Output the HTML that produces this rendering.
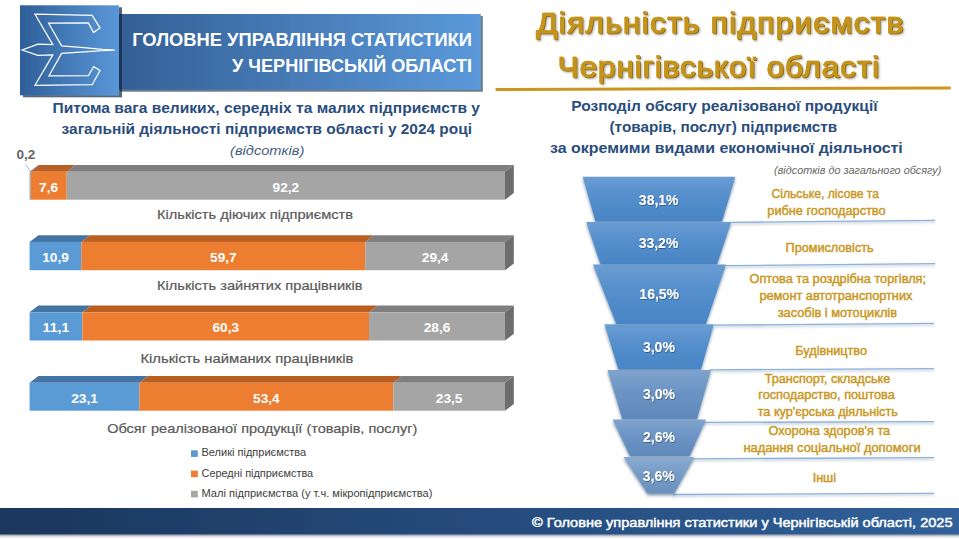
<!DOCTYPE html>
<html lang="uk"><head><meta charset="utf-8"><title>Діяльність підприємств Чернігівської області</title>
<style>
html,body{margin:0;padding:0;background:#fff;}
body{width:959px;height:539px;overflow:hidden;font-family:"Liberation Sans",sans-serif;}
svg{display:block;font-family:"Liberation Sans",sans-serif;}
</style></head><body>
<svg width="959" height="539" viewBox="0 0 959 539">
<defs>
<linearGradient id="gLogo" x1="0" y1="0" x2="1" y2="0"><stop offset="0" stop-color="#2f5f99"/><stop offset="1" stop-color="#5a97d8"/></linearGradient>
<linearGradient id="gBan" x1="0" y1="0" x2="1" y2="0"><stop offset="0" stop-color="#335f95"/><stop offset="1" stop-color="#5b99da"/></linearGradient>
<linearGradient id="gFoot" x1="0" y1="0" x2="1" y2="0"><stop offset="0" stop-color="#1b365d"/><stop offset="1" stop-color="#30609a"/></linearGradient>
<linearGradient id="gTrapA" x1="0" y1="0" x2="0" y2="1"><stop offset="0" stop-color="#6b9dd3"/><stop offset="0.45" stop-color="#548ecc"/><stop offset="1" stop-color="#4985c5"/></linearGradient>
<linearGradient id="gTrapB" x1="0" y1="0" x2="0" y2="1"><stop offset="0" stop-color="#7fa3cd"/><stop offset="0.45" stop-color="#6b94c4"/><stop offset="1" stop-color="#5f89ba"/></linearGradient>
<linearGradient id="gTrapC" x1="0" y1="0" x2="0" y2="1"><stop offset="0" stop-color="#8aabd0"/><stop offset="0.45" stop-color="#769bc7"/><stop offset="1" stop-color="#6a91be"/></linearGradient>
<filter id="sh" x="-10%" y="-10%" width="125%" height="130%"><feDropShadow dx="2" dy="2" stdDeviation="0.5" flood-color="#1c2f48" flood-opacity="0.65"/></filter>
<filter id="shLogo" x="-10%" y="-10%" width="125%" height="125%"><feDropShadow dx="3" dy="2" stdDeviation="0.5" flood-color="#0c2140" flood-opacity="0.7"/></filter>
<filter id="shFoot" x="-2%" y="-20%" width="104%" height="160%"><feDropShadow dx="0" dy="1.5" stdDeviation="1" flood-color="#1c2f48" flood-opacity="0.55"/></filter>
<filter id="shT" x="-10%" y="-20%" width="120%" height="150%"><feDropShadow dx="0" dy="2" stdDeviation="1.6" flood-color="#24425f" flood-opacity="0.55"/></filter>
<filter id="shL" x="-5%" y="-400%" width="110%" height="900%"><feDropShadow dx="0" dy="1.5" stdDeviation="1" flood-color="#35506e" flood-opacity="0.38"/></filter>
<filter id="shGold" x="-5%" y="-30%" width="110%" height="170%" color-interpolation-filters="sRGB">
<feGaussianBlur in="SourceAlpha" stdDeviation="1.3" result="b"/><feOffset in="b" dx="1.8" dy="2" result="bo"/><feFlood flood-color="#5f5a4c" flood-opacity="0.5"/><feComposite in2="bo" operator="in" result="shadow"/>
<feOffset in="SourceAlpha" dx="0.55" dy="0.55" result="d"/><feFlood flood-color="#8e6a0d"/><feComposite in2="d" operator="in" result="dark"/>
<feOffset in="SourceAlpha" dx="-0.4" dy="-0.45" result="l"/><feFlood flood-color="#e3b640"/><feComposite in2="l" operator="in" result="light"/>
<feMerge><feMergeNode in="shadow"/><feMergeNode in="dark"/><feMergeNode in="light"/><feMergeNode in="SourceGraphic"/></feMerge></filter>
<filter id="shTxt" x="-10%" y="-30%" width="120%" height="170%"><feDropShadow dx="0.6" dy="0.8" stdDeviation="0.7" flood-color="#1d3a5c" flood-opacity="0.7"/></filter>
</defs>
<rect width="959" height="539" fill="#ffffff"/>

<rect x="118" y="14" width="362.8" height="75.7" fill="url(#gBan)" filter="url(#sh)"/>
<rect x="20" y="5.3" width="99" height="90" fill="url(#gLogo)" filter="url(#shLogo)"/>
<polygon points="35,14.2 92.2,15.3 100,27.9 93.6,32.6 88.4,22.9 48.6,23.2 61.6,45.9 84,47.6 102.2,49.3 114.8,50.1 102.2,50.6 84,51.8 61.6,53.4 49,75.8 88.4,75.7 93.6,66.6 100,70.5 92.2,84.7 35,85.3 52.8,54.8 37.9,55.3 22.2,50 37.9,44.1 52.8,44.7" fill="none" stroke="#ffffff" stroke-width="1.25" stroke-linejoin="miter"/>
<text x="132.2" y="45.6" font-size="17.9" fill="#ffffff" font-weight="bold" font-style="normal" text-anchor="start" textLength="339.8" lengthAdjust="spacingAndGlyphs" >ГОЛОВНЕ УПРАВЛІННЯ СТАТИСТИКИ</text>
<text x="232.0" y="72.3" font-size="17.9" fill="#ffffff" font-weight="bold" font-style="normal" text-anchor="start" textLength="240.0" lengthAdjust="spacingAndGlyphs" >У ЧЕРНІГІВСЬКІЙ ОБЛАСТІ</text>
<path d="M495.6 89.6 L950.7 87.9" stroke="#c9961f" stroke-width="3" fill="none"/>
<g filter="url(#shGold)">
<text transform="translate(535.90,33.45) scale(1.08,1)" x="0" y="0" font-size="29.3" fill="#c4931c" font-weight="normal" font-style="normal" textLength="340.1" lengthAdjust="spacing" stroke="#c4931c" stroke-width="0.7" stroke-linejoin="round">Діяльність підприємств</text>
<text transform="translate(557.50,77.45) scale(1.08,1)" x="0" y="0" font-size="29.3" fill="#c4931c" font-weight="normal" font-style="normal" textLength="297.7" lengthAdjust="spacing" stroke="#c4931c" stroke-width="0.7" stroke-linejoin="round">Чернігівської області</text>
</g>
<text x="52.5" y="113.1" font-size="14.3" fill="#2a4d7d" font-weight="bold" font-style="normal" text-anchor="start" textLength="427.5" lengthAdjust="spacingAndGlyphs" >Питома вага великих, середніх та малих підприємств у</text>
<text x="61.6" y="134.4" font-size="14.3" fill="#2a4d7d" font-weight="bold" font-style="normal" text-anchor="start" textLength="410.4" lengthAdjust="spacingAndGlyphs" >загальній діяльності підприємств області у 2024 році</text>
<text x="230.0" y="154.6" font-size="12.5" fill="#44607f" font-weight="normal" font-style="italic" text-anchor="start" textLength="74.3" lengthAdjust="spacingAndGlyphs" >(відсотків)</text>
<polygon points="29.6,171.8 38.4,165.1 39.4,165.1 30.6,171.8" fill="#4474a3"/>
<polygon points="30.6,171.8 39.4,165.1 75.5,165.1 66.7,171.8" fill="#ba5f22"/>
<polygon points="66.7,171.8 75.5,165.1 513.8,165.1 505.0,171.8" fill="#7f7f7f"/>
<polygon points="505.0,171.8 513.8,165.1 513.8,193.0 505.0,199.7" fill="#6d6d6d"/>
<rect x="29.6" y="171.8" width="0.95" height="27.9" fill="#5b9bd5"/>
<rect x="30.6" y="171.8" width="36.13" height="27.9" fill="#ed7d31"/>
<rect x="66.7" y="171.8" width="438.32" height="27.9" fill="#a5a5a5"/>
<text x="39.1" y="191.6" font-size="13.4" fill="#ffffff" font-weight="bold" font-style="normal" text-anchor="start" textLength="19.1" lengthAdjust="spacingAndGlyphs" >7,6</text>
<text x="272.5" y="191.6" font-size="13.4" fill="#ffffff" font-weight="bold" font-style="normal" text-anchor="start" textLength="26.7" lengthAdjust="spacingAndGlyphs" >92,2</text>
<polygon points="29.6,241.9 38.4,235.2 90.2,235.2 81.4,241.9" fill="#4474a3"/>
<polygon points="81.4,241.9 90.2,235.2 374.0,235.2 365.2,241.9" fill="#ba5f22"/>
<polygon points="365.2,241.9 374.0,235.2 513.8,235.2 505.0,241.9" fill="#7f7f7f"/>
<polygon points="505.0,241.9 513.8,235.2 513.8,263.5 505.0,270.2" fill="#6d6d6d"/>
<rect x="29.6" y="241.9" width="51.82" height="28.3" fill="#5b9bd5"/>
<rect x="81.4" y="241.9" width="283.81" height="28.3" fill="#ed7d31"/>
<rect x="365.2" y="241.9" width="139.77" height="28.3" fill="#a5a5a5"/>
<text x="42.2" y="261.7" font-size="13.4" fill="#ffffff" font-weight="bold" font-style="normal" text-anchor="start" textLength="26.7" lengthAdjust="spacingAndGlyphs" >10,9</text>
<text x="210.0" y="261.7" font-size="13.4" fill="#ffffff" font-weight="bold" font-style="normal" text-anchor="start" textLength="26.7" lengthAdjust="spacingAndGlyphs" >59,7</text>
<text x="421.8" y="261.7" font-size="13.4" fill="#ffffff" font-weight="bold" font-style="normal" text-anchor="start" textLength="26.7" lengthAdjust="spacingAndGlyphs" >29,4</text>
<polygon points="29.6,312.3 38.4,305.6 91.2,305.6 82.4,312.3" fill="#4474a3"/>
<polygon points="82.4,312.3 91.2,305.6 377.8,305.6 369.0,312.3" fill="#ba5f22"/>
<polygon points="369.0,312.3 377.8,305.6 513.8,305.6 505.0,312.3" fill="#7f7f7f"/>
<polygon points="505.0,312.3 513.8,305.6 513.8,333.8 505.0,340.5" fill="#6d6d6d"/>
<rect x="29.6" y="312.3" width="52.77" height="28.2" fill="#5b9bd5"/>
<rect x="82.4" y="312.3" width="286.67" height="28.2" fill="#ed7d31"/>
<rect x="369.0" y="312.3" width="135.96" height="28.2" fill="#a5a5a5"/>
<text x="42.6" y="332.1" font-size="13.4" fill="#ffffff" font-weight="bold" font-style="normal" text-anchor="start" textLength="26.7" lengthAdjust="spacingAndGlyphs" >11,1</text>
<text x="212.4" y="332.1" font-size="13.4" fill="#ffffff" font-weight="bold" font-style="normal" text-anchor="start" textLength="26.7" lengthAdjust="spacingAndGlyphs" >60,3</text>
<text x="423.7" y="332.1" font-size="13.4" fill="#ffffff" font-weight="bold" font-style="normal" text-anchor="start" textLength="26.7" lengthAdjust="spacingAndGlyphs" >28,6</text>
<polygon points="29.6,382.8 38.4,376.1 148.2,376.1 139.4,382.8" fill="#4474a3"/>
<polygon points="139.4,382.8 148.2,376.1 402.1,376.1 393.3,382.8" fill="#ba5f22"/>
<polygon points="393.3,382.8 402.1,376.1 513.8,376.1 505.0,382.8" fill="#7f7f7f"/>
<polygon points="505.0,382.8 513.8,376.1 513.8,404.0 505.0,410.7" fill="#6d6d6d"/>
<rect x="29.6" y="382.8" width="109.82" height="27.9" fill="#5b9bd5"/>
<rect x="139.4" y="382.8" width="253.86" height="27.9" fill="#ed7d31"/>
<rect x="393.3" y="382.8" width="111.72" height="27.9" fill="#a5a5a5"/>
<text x="71.2" y="402.6" font-size="13.4" fill="#ffffff" font-weight="bold" font-style="normal" text-anchor="start" textLength="26.7" lengthAdjust="spacingAndGlyphs" >23,1</text>
<text x="253.0" y="402.6" font-size="13.4" fill="#ffffff" font-weight="bold" font-style="normal" text-anchor="start" textLength="26.7" lengthAdjust="spacingAndGlyphs" >53,4</text>
<text x="435.8" y="402.6" font-size="13.4" fill="#ffffff" font-weight="bold" font-style="normal" text-anchor="start" textLength="26.7" lengthAdjust="spacingAndGlyphs" >23,5</text>
<text x="16.4" y="158.6" font-size="12" fill="#666666" font-weight="bold" font-style="normal" text-anchor="start" textLength="18.8" lengthAdjust="spacingAndGlyphs" >0,2</text>
<path d="M25.5 164.5 L30 171" stroke="#a6a6a6" stroke-width="0.8" fill="none"/>
<text x="157.0" y="219.2" font-size="13" fill="#595959" font-weight="normal" font-style="normal" text-anchor="start" textLength="196.0" lengthAdjust="spacingAndGlyphs" stroke="#595959" stroke-width="0.2">Кількість діючих підприємств</text>
<text x="157.0" y="290.0" font-size="13" fill="#595959" font-weight="normal" font-style="normal" text-anchor="start" textLength="205.5" lengthAdjust="spacingAndGlyphs" stroke="#595959" stroke-width="0.2">Кількість зайнятих працівників</text>
<text x="140.4" y="362.6" font-size="13" fill="#595959" font-weight="normal" font-style="normal" text-anchor="start" textLength="213.1" lengthAdjust="spacingAndGlyphs" stroke="#595959" stroke-width="0.2">Кількість найманих працівників</text>
<text x="107.2" y="433.4" font-size="13" fill="#595959" font-weight="normal" font-style="normal" text-anchor="start" textLength="310.2" lengthAdjust="spacingAndGlyphs" stroke="#595959" stroke-width="0.2">Обсяг реалізованої продукції (товарів, послуг)</text>
<rect x="191" y="450.3" width="6.8" height="6.6" fill="#5b9bd5"/>
<text x="201.5" y="456.4" font-size="10.9" fill="#404040" font-weight="normal" font-style="normal" text-anchor="start" textLength="104.6" lengthAdjust="spacingAndGlyphs" >Великі підприємства</text>
<rect x="191" y="470.6" width="6.8" height="6.6" fill="#ed7d31"/>
<text x="201.5" y="476.7" font-size="10.9" fill="#404040" font-weight="normal" font-style="normal" text-anchor="start" textLength="111.7" lengthAdjust="spacingAndGlyphs" >Середні підприємства</text>
<rect x="191" y="490.8" width="6.8" height="6.6" fill="#a5a5a5"/>
<text x="201.5" y="496.9" font-size="10.9" fill="#404040" font-weight="normal" font-style="normal" text-anchor="start" textLength="230.9" lengthAdjust="spacingAndGlyphs" >Малі підприємства (у т.ч. мікропідприємства)</text>
<text x="571.2" y="110.8" font-size="14.3" fill="#2a4d7d" font-weight="bold" font-style="normal" text-anchor="start" textLength="306.4" lengthAdjust="spacingAndGlyphs" >Розподіл обсягу реалізованої продукції</text>
<text x="609.5" y="132.0" font-size="14.3" fill="#2a4d7d" font-weight="bold" font-style="normal" text-anchor="start" textLength="227.7" lengthAdjust="spacingAndGlyphs" >(товарів, послуг) підприємств</text>
<text x="550.0" y="153.2" font-size="14.3" fill="#2a4d7d" font-weight="bold" font-style="normal" text-anchor="start" textLength="352.8" lengthAdjust="spacingAndGlyphs" >за окремими видами економічної діяльності</text>
<text x="774.1" y="173.8" font-size="10.5" fill="#666666" font-weight="normal" font-style="italic" text-anchor="start" textLength="167.3" lengthAdjust="spacingAndGlyphs" >(відсотків до загального обсягу)</text>
<g filter="url(#shL)" stroke="#8cb1dc" stroke-width="1.3" fill="none">
<path d="M731 222.4 L935 220.3"/>
<path d="M725.7 265.7 L935 263.6"/>
<path d="M713.4 325.2 L934 323.4"/>
<path d="M709.7 369.8 L934 368.6"/>
<path d="M704 422.4 L934 421.7"/>
<path d="M693 458.8 L934 457.7"/>
<path d="M673 494.5 L934 493.4"/>
</g>
<polygon points="582.7,176.8 735.3,176.8 722.0,221.5 595.5,221.5" fill="url(#gTrapA)" filter="url(#shT)" stroke-linejoin="round"/>
<polygon points="586.3,222.1 731.2,222.1 717.0,264.6 600.6,264.6" fill="url(#gTrapA)" filter="url(#shT)" stroke-linejoin="round"/>
<polygon points="593.0,264.4 726.0,264.4 705.9,324.0 616.3,324.0" fill="url(#gTrapA)" filter="url(#shT)" stroke-linejoin="round"/>
<polygon points="604.5,324.3 713.8,324.3 701.0,369.5 618.4,369.5" fill="url(#gTrapA)" filter="url(#shT)" stroke-linejoin="round"/>
<polygon points="607.5,370.0 711.0,370.0 697.0,419.0 622.3,419.0" fill="url(#gTrapB)" filter="url(#shT)" stroke-linejoin="round"/>
<polygon points="612.6,419.6 706.0,419.6 689.7,456.0 630.0,456.0" fill="url(#gTrapB)" filter="url(#shT)" stroke-linejoin="round"/>
<polygon points="623.5,457.0 694.4,457.0 674.0,493.6 647.6,493.6" fill="url(#gTrapC)" filter="url(#shT)" stroke-linejoin="round"/>
<text x="658.7" y="205.4" font-size="14" fill="#ffffff" font-weight="bold" font-style="normal" text-anchor="middle" filter="url(#shTxt)">38,1%</text>
<text x="658.5" y="248.3" font-size="14" fill="#ffffff" font-weight="bold" font-style="normal" text-anchor="middle" filter="url(#shTxt)">33,2%</text>
<text x="659.2" y="299.0" font-size="14" fill="#ffffff" font-weight="bold" font-style="normal" text-anchor="middle" filter="url(#shTxt)">16,5%</text>
<text x="658.9" y="351.9" font-size="14" fill="#ffffff" font-weight="bold" font-style="normal" text-anchor="middle" filter="url(#shTxt)">3,0%</text>
<text x="659.0" y="398.7" font-size="14" fill="#ffffff" font-weight="bold" font-style="normal" text-anchor="middle" filter="url(#shTxt)">3,0%</text>
<text x="659.0" y="441.9" font-size="14" fill="#ffffff" font-weight="bold" font-style="normal" text-anchor="middle" filter="url(#shTxt)">2,6%</text>
<text x="658.7" y="481.1" font-size="14" fill="#ffffff" font-weight="bold" font-style="normal" text-anchor="middle" filter="url(#shTxt)">3,6%</text>
<text x="771.5" y="198.2" font-size="12.2" fill="#c9981f" font-weight="normal" font-style="normal" text-anchor="start" textLength="107.5" lengthAdjust="spacingAndGlyphs" stroke="#c9981f" stroke-width="0.45">Сільське, лісове та</text>
<text x="767.3" y="215.2" font-size="12.2" fill="#c9981f" font-weight="normal" font-style="normal" text-anchor="start" textLength="118.3" lengthAdjust="spacingAndGlyphs" stroke="#c9981f" stroke-width="0.45">рибне господарство</text>
<text x="785.6" y="251.5" font-size="12.2" fill="#c9981f" font-weight="normal" font-style="normal" text-anchor="start" textLength="88.0" lengthAdjust="spacingAndGlyphs" stroke="#c9981f" stroke-width="0.45">Промисловість</text>
<text x="749.5" y="283.3" font-size="12.2" fill="#c9981f" font-weight="normal" font-style="normal" text-anchor="start" textLength="176.5" lengthAdjust="spacingAndGlyphs" stroke="#c9981f" stroke-width="0.45">Оптова та роздрібна торгівля;</text>
<text x="759.4" y="300.4" font-size="12.2" fill="#c9981f" font-weight="normal" font-style="normal" text-anchor="start" textLength="153.0" lengthAdjust="spacingAndGlyphs" stroke="#c9981f" stroke-width="0.45">ремонт автотранспортних</text>
<text x="777.7" y="316.8" font-size="12.2" fill="#c9981f" font-weight="normal" font-style="normal" text-anchor="start" textLength="119.3" lengthAdjust="spacingAndGlyphs" stroke="#c9981f" stroke-width="0.45">засобів і мотоциклів</text>
<text x="795.3" y="355.0" font-size="12.2" fill="#c9981f" font-weight="normal" font-style="normal" text-anchor="start" textLength="71.7" lengthAdjust="spacingAndGlyphs" stroke="#c9981f" stroke-width="0.45">Будівництво</text>
<text x="764.7" y="383.3" font-size="12.2" fill="#c9981f" font-weight="normal" font-style="normal" text-anchor="start" textLength="125.5" lengthAdjust="spacingAndGlyphs" stroke="#c9981f" stroke-width="0.45">Транспорт, складське</text>
<text x="758.3" y="399.2" font-size="12.2" fill="#c9981f" font-weight="normal" font-style="normal" text-anchor="start" textLength="136.4" lengthAdjust="spacingAndGlyphs" stroke="#c9981f" stroke-width="0.45">господарство, поштова</text>
<text x="757.7" y="415.6" font-size="12.2" fill="#c9981f" font-weight="normal" font-style="normal" text-anchor="start" textLength="140.1" lengthAdjust="spacingAndGlyphs" stroke="#c9981f" stroke-width="0.45">та кур'єрська діяльність</text>
<text x="768.5" y="435.4" font-size="12.2" fill="#c9981f" font-weight="normal" font-style="normal" text-anchor="start" textLength="121.7" lengthAdjust="spacingAndGlyphs" stroke="#c9981f" stroke-width="0.45">Охорона здоров'я та</text>
<text x="743.4" y="451.8" font-size="12.2" fill="#c9981f" font-weight="normal" font-style="normal" text-anchor="start" textLength="177.2" lengthAdjust="spacingAndGlyphs" stroke="#c9981f" stroke-width="0.45">надання соціальної допомоги</text>
<text x="812.7" y="482.4" font-size="12.2" fill="#c9981f" font-weight="normal" font-style="normal" text-anchor="start" textLength="23.3" lengthAdjust="spacingAndGlyphs" stroke="#c9981f" stroke-width="0.45">Інші</text>
<rect x="-5" y="508" width="969" height="26.4" fill="url(#gFoot)" filter="url(#shFoot)"/>
<text x="532.0" y="526.8" font-size="12.8" fill="#ffffff" font-weight="normal" font-style="normal" text-anchor="start" textLength="420.5" lengthAdjust="spacingAndGlyphs" stroke="#ffffff" stroke-width="0.45">© Головне управління статистики у Чернігівській області, 2025</text>
</svg></body></html>
